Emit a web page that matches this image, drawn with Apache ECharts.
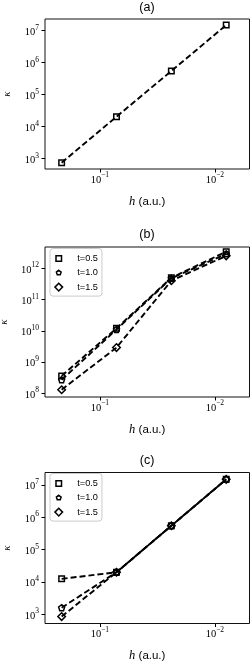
<!DOCTYPE html>
<html><head><meta charset="utf-8">
<script src="https://cdn.jsdelivr.net/npm/echarts@6/dist/echarts.min.js"></script>
<style>html,body{margin:0;padding:0;background:#fff;}#c{width:252px;height:662px;}</style>
</head><body><div id="c"></div>
<script>
// ---- data ----
const hValues = [0.215, 0.0717, 0.0239, 0.00797];
const xTicks = [0.1, 0.01];
const kappaA = [750, 2.05e4, 5.5e5, 1.5e7];
const kappaB_t05 = [3.6e8, 1.2e10, 5.0e11, 3.4e12];
const kappaB_t10 = [2.7e8, 1.1e10, 4.8e11, 2.9e12];
const kappaB_t15 = [1.3e8, 2.9e9, 4.0e11, 2.5e12];
const kappaC_t05 = [1.25e4, 2.0e4, 5.5e5, 1.5e7];
const kappaC_t10 = [1.6e3, 2.0e4, 5.5e5, 1.5e7];
const kappaC_t15 = [850, 2.0e4, 5.5e5, 1.5e7];
const yTicksA = [1e3, 1e4, 1e5, 1e6, 1e7];
const yTicksB = [1e8, 1e9, 1e10, 1e11, 1e12];
const yTicksC = [1e3, 1e4, 1e5, 1e6, 1e7];
const seriesNames = ['t=0.5', 't=1.0', 't=1.5'];
const panelTitles = ['(a)', '(b)', '(c)'];

// ---- styling ----
const SERIF = 'Liberation Serif';
const SANS = 'Liberation Sans';
const pent = 'path://M0,-1 L0.951,-0.309 L0.588,0.809 L-0.588,0.809 L-0.951,-0.309 Z';
const diam = 'path://M0,-1 L1,0 L0,1 L-1,0 Z';
const legSquare = 'path://M-1.45,-1.45 M1.45,1.45 M-1,-1 L1,-1 L1,1 L-1,1 Z';
const legPent = 'path://M-1.6,-1.6 M1.6,1.6 M0,-1 L0.951,-0.309 L0.588,0.809 L-0.588,0.809 L-0.951,-0.309 Z';
const legDiam = 'path://M-1.05,-1.05 M1.05,1.05 M0,-1 L1,0 L0,1 L-1,0 Z';
const symbols = ['rect', pent, diam];
const symSizes = [5.5, 6, 7.5];
const legIcons = [legSquare, legPent, legDiam];

function pow10(v) {
  const e = Math.round(Math.log10(v));
  return '{b|10}{s|' + (e < 0 ? '\u2212' + (-e) : e) + '}';
}
const rich = {
  b: {fontFamily: SERIF, fontSize: 10.5, color: '#000', lineHeight: 14, verticalAlign: 'bottom'},
  s: {fontFamily: SERIF, fontSize: 7.5, color: '#000', lineHeight: 8, verticalAlign: 'top'}
};

const grids = [
  {left: 45, top: 19, width: 204.5, height: 150},
  {left: 45, top: 247, width: 204.5, height: 150},
  {left: 45, top: 472.5, width: 204.5, height: 151}
].map(g => Object.assign(g, {show: true, borderColor: '#111', borderWidth: 1, backgroundColor: 'transparent', containLabel: false, outerBoundsMode: 'none'}));

const yRanges = [[476, 2.32e7], [7.6e7, 4.8e12], [519, 2.44e7]];
const yTickSets = [yTicksA, yTicksB, yTicksC];

const xAxes = grids.map((g, i) => ({
  type: 'log', logBase: 10, gridIndex: i, inverse: true, min: 0.005, max: 0.3,
  axisLine: {show: false},
  axisTick: {show: true, inside: false, length: 3.5, lineStyle: {color: '#000', width: 1}, customValues: xTicks},
  axisLabel: {show: true, margin: 2.5, formatter: pow10, rich: rich, customValues: xTicks},
  splitLine: {show: false}, minorTick: {show: false},
  name: '{i|h} (a.u.)', nameLocation: 'middle', nameGap: 26,
  nameTextStyle: {fontFamily: SANS, fontSize: 11.5, color: '#000',
    rich: {i: {fontFamily: SERIF, fontStyle: 'italic', fontSize: 12.5, color: '#000'}}}
}));

const yAxes = grids.map((g, i) => ({
  type: 'log', logBase: 10, gridIndex: i, min: yRanges[i][0], max: yRanges[i][1],
  axisLine: {show: false},
  axisTick: {show: true, inside: false, length: 3.5, lineStyle: {color: '#000', width: 1}, customValues: yTickSets[i]},
  axisLabel: {show: true, margin: 6, formatter: pow10, rich: rich, customValues: yTickSets[i]},
  splitLine: {show: false}, minorTick: {show: false},
  name: '\u03BA', nameLocation: 'middle', nameGap: 32, nameRotate: 90,
  nameTextStyle: {fontFamily: SERIF, fontStyle: 'italic', fontSize: 11, color: '#000'}
}));

function mkSeries(name, vals, gi, si) {
  return {
    type: 'line', name: name, xAxisIndex: gi, yAxisIndex: gi,
    data: hValues.map((h, k) => [h, vals[k]]),
    symbol: symbols[si], symbolSize: symSizes[si], showSymbol: true,
    lineStyle: {color: '#000', width: 1.9, type: [6, 3]},
    itemStyle: {color: 'rgba(0,0,0,0)', borderColor: '#000', borderWidth: 1.5},
    emphasis: {disabled: true}, clip: false, animation: false
  };
}

const series = [
  mkSeries('a', kappaA, 0, 0),
  mkSeries(seriesNames[0], kappaB_t05, 1, 0),
  mkSeries(seriesNames[1], kappaB_t10, 1, 1),
  mkSeries(seriesNames[2], kappaB_t15, 1, 2),
  mkSeries(seriesNames[0], kappaC_t05, 2, 0),
  mkSeries(seriesNames[1], kappaC_t10, 2, 1),
  mkSeries(seriesNames[2], kappaC_t15, 2, 2)
];

function mkLegend(top) {
  return {
    orient: 'vertical', left: 50, top: top,
    padding: [4, 4, 3, 4], itemWidth: 17, itemHeight: 8, itemGap: 2.3,
    borderColor: '#ccc', borderWidth: 1, borderRadius: 3, backgroundColor: 'rgba(255,255,255,0.8)',
    itemStyle: {color: 'rgba(0,0,0,0)', borderColor: '#000', borderWidth: 1.5},
    textStyle: {fontFamily: SANS, fontSize: 9.2, color: '#000', lineHeight: 12, padding: [0, 0, 0, 5]},
    data: seriesNames.map((n, k) => ({name: n, icon: legIcons[k]})),
    selectedMode: false
  };
}

const titleTops = [1, 228, 454];
const option = {
  animation: false,
  backgroundColor: '#fff',
  title: panelTitles.map((t, i) => ({
    text: t, left: 147, textAlign: 'center', top: titleTops[i], padding: 0,
    textStyle: {fontFamily: SANS, fontSize: 12.5, fontWeight: 'normal', color: '#000'}
  })),
  grid: grids, xAxis: xAxes, yAxis: yAxes,
  legend: [mkLegend(248.5), mkLegend(473.5)],
  series: series
};
const chart = echarts.init(document.getElementById('c'), null, {renderer: 'canvas'});
chart.setOption(option);
</script></body></html>
